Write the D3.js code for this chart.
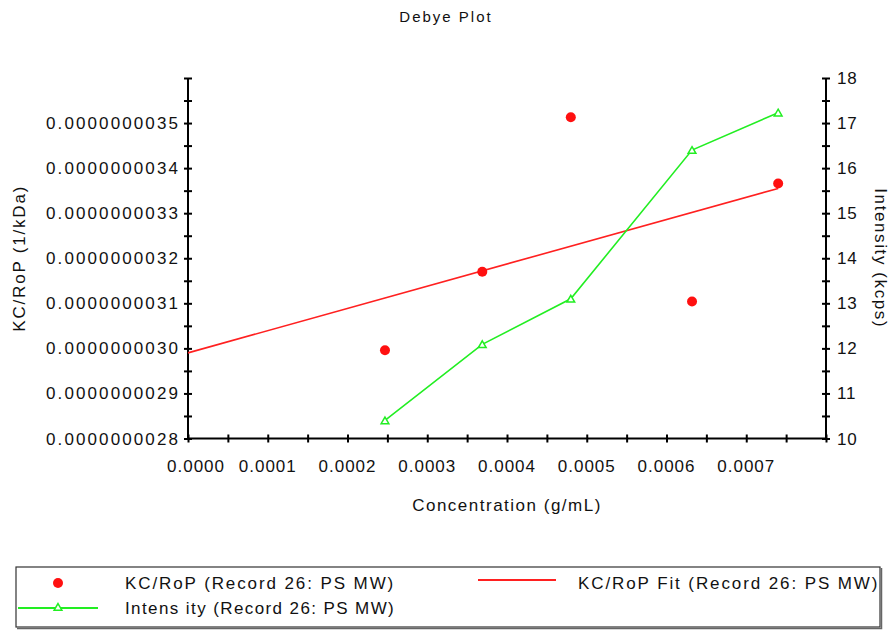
<!DOCTYPE html>
<html><head><meta charset="utf-8">
<script src="https://cdn.jsdelivr.net/npm/d3@7/dist/d3.min.js"></script>
<style>
html,body{margin:0;padding:0;background:#fff;}
text{font-family:"Liberation Sans",Arial,sans-serif;fill:#111;}
</style></head>
<body><svg id="chart" width="892" height="631"></svg>
<script>
// ---- data ----
const concentration = [0.000247, 0.000369, 0.000480, 0.000632, 0.000740];
const kcRoP = [2.996e-9, 3.170e-9, 3.513e-9, 3.104e-9, 3.366e-9];
const intensity = [10.40, 12.09, 13.10, 16.40, 17.23];
const fitX = [0, 0.000740];
const fitY = [2.990e-9, 3.355e-9];
const xTickLabels = ["0.0000","0.0001","0.0002","0.0003","0.0004","0.0005","0.0006","0.0007"];
const xTickValues = [0,0.0001,0.0002,0.0003,0.0004,0.0005,0.0006,0.0007];
const yLeftTickValues = [2.8e-9,2.9e-9,3.0e-9,3.1e-9,3.2e-9,3.3e-9,3.4e-9,3.5e-9];
const yLeftTickLabels = ["0.0000000028","0.0000000029","0.0000000030","0.0000000031","0.0000000032","0.0000000033","0.0000000034","0.0000000035"];
const yRightTickValues = [10,11,12,13,14,15,16,17,18];
const legendLabels = ["KC/RoP (Record 26: PS MW)","KC/RoP Fit (Record 26: PS MW)","Intens ity (Record 26: PS MW)"];

const svg = d3.select("#chart");
svg.append("rect").attr("width",892).attr("height",631).attr("fill","#fff");
const L=188, R=826, T=78, B=438.5;
const x = d3.scaleLinear().domain([0,0.0008]).range([L,R]);
const yL = d3.scaleLinear().domain([2.8e-9,3.6e-9]).range([B,T]);
const yR = d3.scaleLinear().domain([10,18]).range([B,T]);

// title
svg.append("text").attr("x",446).attr("y",22).attr("text-anchor","middle")
  .style("font-size","15px").style("letter-spacing","2px").text("Debye Plot");

function styleAxis(g){
  g.select(".domain").attr("stroke","#000").attr("stroke-width",2);
  g.selectAll(".tick line").attr("stroke","#000").attr("stroke-width",2);
}

// bottom axis
const xMinor = x.ticks(16);
const gx = svg.append("g").attr("transform",`translate(0,${B})`)
  .call(d3.axisBottom(x).tickValues(xMinor).tickSize(0).tickFormat(""));
gx.select(".domain").attr("d",`M${L},0H${R}`);
gx.selectAll(".tick line").attr("y1",-4).attr("y2",4);
styleAxis(gx);
svg.append("g").selectAll("text").data(xTickValues).join("text")
  .attr("x",(d,i)=>x(d)+(i===0?8:0)).attr("y",B+33).attr("text-anchor","middle")
  .style("font-size","17px").style("letter-spacing","1px")
  .text((d,i)=>xTickLabels[i]);
svg.append("text").attr("x",(L+R)/2).attr("y",B+72).attr("text-anchor","middle")
  .style("font-size","17px").style("letter-spacing","1.5px").text("Concentration (g/mL)");

// left axis
const yLMinor = yL.ticks(16);
const gl = svg.append("g").attr("transform",`translate(${L},0)`)
  .call(d3.axisLeft(yL).tickValues(yLMinor).tickSize(0).tickFormat(""));
gl.select(".domain").attr("d",`M0,${T}V${B}`);
gl.selectAll(".tick line").attr("x1",-4).attr("x2",4);
styleAxis(gl);
svg.append("g").selectAll("text").data(yLeftTickValues).join("text")
  .attr("x",L-8).attr("y",d=>yL(d)+6).attr("text-anchor","end")
  .style("font-size","17px").style("letter-spacing","2.1px")
  .text((d,i)=>yLeftTickLabels[i]);
svg.append("text").attr("transform",`translate(25,${(T+B)/2}) rotate(-90)`)
  .attr("text-anchor","middle").style("font-size","17px").style("letter-spacing","1.8px")
  .text("KC/RoP (1/kDa)");

// right axis
const yRMinor = yR.ticks(16);
const gr = svg.append("g").attr("transform",`translate(${R},0)`)
  .call(d3.axisRight(yR).tickValues(yRMinor).tickSize(0).tickFormat(""));
gr.select(".domain").attr("d",`M0,${T}V${B}`);
gr.selectAll(".tick line").attr("x1",-4).attr("x2",4);
styleAxis(gr);
svg.append("g").selectAll("text").data(yRightTickValues).join("text")
  .attr("x",R+11).attr("y",d=>yR(d)+6).attr("text-anchor","start")
  .style("font-size","17px").style("letter-spacing","0.8px")
  .text(d=>d);
svg.append("text").attr("transform",`translate(875,${(T+B)/2}) rotate(90)`)
  .attr("text-anchor","middle").style("font-size","17px").style("letter-spacing","1.6px")
  .text("Intensity (kcps)");

// fit line
const lineL = d3.line().x(d=>x(d[0])).y(d=>yL(d[1]));
svg.append("path").datum(fitX.map((v,i)=>[v,fitY[i]])).attr("d",lineL)
  .attr("fill","none").attr("stroke","#ff2020").attr("stroke-width",1.6);

// intensity line
const lineR = d3.line().x(d=>x(d[0])).y(d=>yR(d[1]));
const intData = concentration.map((c,i)=>[c,intensity[i]]);
svg.append("path").datum(intData).attr("d",lineR)
  .attr("fill","none").attr("stroke","#22ee22").attr("stroke-width",1.6);
const tri = d3.symbol().type(d3.symbolTriangle).size(26);
svg.append("g").selectAll("path").data(intData).join("path")
  .attr("d",tri).attr("transform",d=>`translate(${x(d[0])},${yR(d[1])+1})`)
  .attr("fill","#fff").attr("stroke","#22ee22").attr("stroke-width",1.5);

// KC/RoP points
svg.append("g").selectAll("circle").data(concentration.map((c,i)=>[c,kcRoP[i]])).join("circle")
  .attr("cx",d=>x(d[0])).attr("cy",d=>yL(d[1])).attr("r",5).attr("fill","#ff1010");

// legend
const lg = svg.append("g");
lg.append("rect").attr("x",16).attr("y",567).attr("width",864).attr("height",60)
  .attr("fill","#fff").attr("stroke","#333").attr("stroke-width",1.2);
lg.append("path").attr("d","M17,628.5H881.5V568").attr("fill","none").attr("stroke","#666").attr("stroke-width",1.5);
lg.append("circle").attr("cx",58).attr("cy",583).attr("r",5).attr("fill","#ff1010");
lg.append("text").attr("x",125).attr("y",589).style("font-size","17px").style("letter-spacing","1.9px").text(legendLabels[0]);
lg.append("line").attr("x1",478).attr("x2",556).attr("y1",580).attr("y2",580).attr("stroke","#ff2020").attr("stroke-width",1.8);
lg.append("text").attr("x",578).attr("y",589).style("font-size","17px").style("letter-spacing","1.9px").text(legendLabels[1]);
lg.append("line").attr("x1",18).attr("x2",98).attr("y1",608).attr("y2",608).attr("stroke","#22ee22").attr("stroke-width",1.8);
lg.append("path").attr("d",tri).attr("transform","translate(58,608)").attr("fill","#fff").attr("stroke","#22ee22").attr("stroke-width",1.5);
lg.append("text").attr("x",125).attr("y",614).style("font-size","17px").style("letter-spacing","1.4px").text(legendLabels[2]);
</script></body></html>
